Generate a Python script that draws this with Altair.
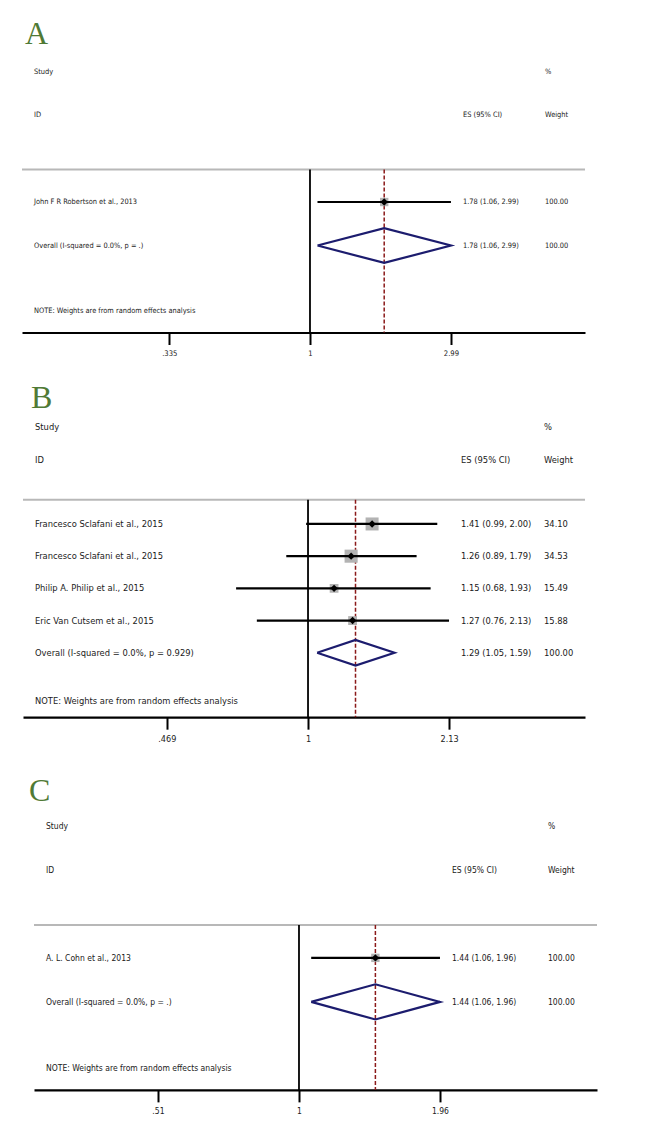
import altair as alt
import pandas as pd

FONT = "DejaVu Sans Condensed, Liberation Sans, sans-serif"
LETTER_FONT = "Liberation Serif, DejaVu Serif, serif"
NOTE = "NOTE: Weights are from random effects analysis"

# ---------------- Panel A ----------------
a_studies = ["John F R Robertson et al., 2013"]
a_es = [1.78]
a_lo = [1.06]
a_hi = [2.99]
a_weight = [100.00]
a_overall = [1.78, 1.06, 2.99, 100.00]
a_overall_label = "Overall  (I-squared = 0.0%, p = .)"
a_ticks = [0.335, 1, 2.99]
a_tick_labels = [".335", "1", "2.99"]

# ---------------- Panel B ----------------
b_studies = ["Francesco Sclafani et al., 2015", "Francesco Sclafani et al., 2015",
             "Philip A. Philip et al., 2015", "Eric Van Cutsem et al., 2015"]
b_es = [1.41, 1.26, 1.15, 1.27]
b_lo = [0.99, 0.89, 0.68, 0.76]
b_hi = [2.00, 1.79, 1.93, 2.13]
b_weight = [34.10, 34.53, 15.49, 15.88]
b_overall = [1.29, 1.05, 1.59, 100.00]
b_overall_label = "Overall  (I-squared = 0.0%, p = 0.929)"
b_ticks = [0.469, 1, 2.13]
b_tick_labels = [".469", "1", "2.13"]

# ---------------- Panel C ----------------
c_studies = ["A. L. Cohn et al., 2013"]
c_es = [1.44]
c_lo = [1.06]
c_hi = [1.96]
c_weight = [100.00]
c_overall = [1.44, 1.06, 1.96, 100.00]
c_overall_label = "Overall  (I-squared = 0.0%, p = .)"
c_ticks = [0.51, 1, 1.96]
c_tick_labels = [".51", "1", "1.96"]

# layout (pixels / rows) per panel
LA = dict(step=43.5, top=-1.46, rng=[14, 577], dom=[0.1067, 8.473], fs=7.4, name_x=26,
          es_x=455, w_x=537, letter="A", letter_x=17, letter_row=-0.86, sqmax=70, tick_fs=7.6)
LB = dict(step=32.2, top=-2.03, rng=[15, 577], dom=[0.2169, 4.416], fs=9.3, name_x=27,
          es_x=453, w_x=536, letter="B", letter_x=23, letter_row=-0.92, sqmax=496, tick_fs=9)
LC = dict(step=44, top=-1.77, rng=[26, 589], dom=[0.2823, 4.147], fs=8.5, name_x=38,
          es_x=444, w_x=540, letter="C", letter_x=21, letter_row=-0.8, sqmax=70, tick_fs=8.5)
WIDTH = 592


def fmt_es(e, l, h):
    return f"{e:.2f} ({l:.2f}, {h:.2f})"


def panel(studies, es, lo, hi, weight, overall, overall_label, ticks, tick_labels, L):
    n = len(studies)
    gray_row = 2.25
    rows = [3 + i for i in range(n)]
    ov_row = 3 + n
    note_row = 4.5 + n
    axis_row = 5 + n
    height = (axis_row - L["top"]) * L["step"]

    xs = alt.Scale(type="log", domain=L["dom"], range=L["rng"], nice=False)
    ys = alt.Scale(domain=[L["top"], axis_row], reverse=True, nice=False, zero=False)

    expr = "''"
    for v, t in reversed(list(zip(ticks, tick_labels))):
        expr = f"(abs(datum.value - {v}) < 1e-9 ? '{t}' : {expr})"
    xaxis = alt.Axis(values=ticks, labelExpr=expr, title=None, grid=False,
                     domainColor="black", domainWidth=2.2, tickColor="black",
                     tickWidth=2, tickSize=12, labelPadding=5, labelFont=FONT,
                     labelFontSize=L["tick_fs"], labelColor="#222", labelFlush=False)

    ov_es, ov_lo, ov_hi, ov_w = overall
    Y = lambda f: alt.Y(f, scale=ys, axis=None)

    # gray separator line
    sep = alt.Chart(pd.DataFrame({"r": [gray_row]})).mark_rule(
        color="#b8b8b8", strokeWidth=2).encode(
        x=alt.value(L["rng"][0]), x2=alt.value(L["rng"][1]), y=Y("r:Q"))

    # reference lines: null effect and overall effect
    ref = pd.DataFrame({"v": [1.0], "r1": [gray_row], "r2": [axis_row]})
    null_line = alt.Chart(ref).mark_rule(color="black", strokeWidth=1.8).encode(
        x=alt.X("v:Q", scale=xs, axis=xaxis), y=Y("r1:Q"), y2="r2:Q")
    ovd = pd.DataFrame({"v": [ov_es], "r1": [gray_row], "r2": [axis_row]})
    ov_line = alt.Chart(ovd).mark_rule(color="#8b1a1a", strokeWidth=1.5,
                                        strokeDash=[4, 2]).encode(
        x=alt.X("v:Q", scale=xs, axis=xaxis), y=Y("r1:Q"), y2="r2:Q")

    sd = pd.DataFrame({"es": es, "lo": lo, "hi": hi, "w": weight, "r": rows})
    boxes = alt.Chart(sd).mark_square(color="#b3b3b3", opacity=1).encode(
        x=alt.X("es:Q", scale=xs, axis=xaxis), y=Y("r:Q"),
        size=alt.Size("w:Q", scale=alt.Scale(domain=[0, 100], range=[0, L["sqmax"]]),
                      legend=None))
    ci = alt.Chart(sd).mark_rule(color="black", strokeWidth=2.2).encode(
        x=alt.X("lo:Q", scale=xs, axis=xaxis), x2="hi:Q", y=Y("r:Q"))
    dots = alt.Chart(sd).mark_point(shape="diamond", filled=True, color="black",
                                    opacity=1, size=55).encode(
        x=alt.X("es:Q", scale=xs, axis=xaxis), y=Y("r:Q"))

    dd = pd.DataFrame({"v": [ov_lo, ov_es, ov_hi, ov_es, ov_lo],
                       "r": [ov_row, ov_row - 0.4, ov_row, ov_row + 0.4, ov_row],
                       "o": [0, 1, 2, 3, 4]})
    diamond = alt.Chart(dd).mark_line(color="#1c1c6e", strokeWidth=2.2,
                                      strokeJoin="miter").encode(
        x=alt.X("v:Q", scale=xs, axis=xaxis), y=Y("r:Q"), order="o:Q")

    # text columns
    left = pd.DataFrame({"t": ["Study", "ID"] + studies + [overall_label, NOTE],
                         "r": [0, 1] + rows + [ov_row, note_row]})
    esc = pd.DataFrame({"t": ["ES (95% CI)"] + [fmt_es(e, l, h) for e, l, h in zip(es, lo, hi)]
                         + [fmt_es(ov_es, ov_lo, ov_hi)],
                        "r": [1] + rows + [ov_row]})
    wc = pd.DataFrame({"t": ["%", "Weight"] + [f"{w:.2f}" for w in weight] + [f"{ov_w:.2f}"],
                       "r": [0, 1] + rows + [ov_row]})
    tstyle = dict(font=FONT, fontSize=L["fs"], color="#1a1a1a", align="left",
                  baseline="middle")
    t_left = alt.Chart(left).mark_text(**tstyle).encode(
        x=alt.value(L["name_x"]), y=Y("r:Q"), text="t:N")
    t_es = alt.Chart(esc).mark_text(**tstyle).encode(
        x=alt.value(L["es_x"]), y=Y("r:Q"), text="t:N")
    t_w = alt.Chart(wc).mark_text(**tstyle).encode(
        x=alt.value(L["w_x"]), y=Y("r:Q"), text="t:N")
    letter = alt.Chart(pd.DataFrame({"t": [L["letter"]], "r": [L["letter_row"]]})).mark_text(
        font=LETTER_FONT, fontSize=32, color="#507a35", align="left",
        baseline="middle").encode(x=alt.value(L["letter_x"]), y=Y("r:Q"), text="t:N")

    return alt.layer(sep, null_line, ov_line, boxes, ci, dots, diamond,
                     t_left, t_es, t_w, letter).properties(width=WIDTH, height=height)


pa = panel(a_studies, a_es, a_lo, a_hi, a_weight, a_overall, a_overall_label,
           a_ticks, a_tick_labels, LA)
pb = panel(b_studies, b_es, b_lo, b_hi, b_weight, b_overall, b_overall_label,
           b_ticks, b_tick_labels, LB)
pc = panel(c_studies, c_es, c_lo, c_hi, c_weight, c_overall, c_overall_label,
           c_ticks, c_tick_labels, LC)

chart = alt.vconcat(pa, pb, pc, spacing=4).resolve_scale(
    x="independent", y="independent", size="independent").properties(
    padding=0, background="white").configure_view(stroke=None)

chart.save("out.html", embed_options={"renderer": "svg", "actions": False})
